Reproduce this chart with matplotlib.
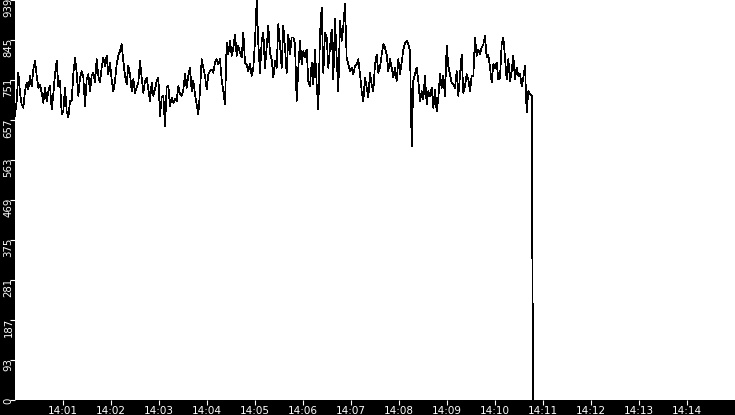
import numpy as np
import matplotlib
matplotlib.use("Agg")
import matplotlib.pyplot as plt
from matplotlib import transforms

# samples, seconds after 14:00
DT = 2.5 / 1.2

seg1_start = 0.0
seg1 = [667, 702, 768, 721, 694, 686, 725, 745, 729, 761,
        737, 776, 796, 761, 733, 741, 721, 698, 733, 702,
        725, 737, 682, 718, 765, 796, 737, 749, 671, 678,
        733, 678, 663, 702, 702, 765, 804, 768, 714, 757,
        772, 757, 690, 753, 765, 725, 761, 768, 745, 800,
        761, 745, 780, 804, 784, 808, 765, 792, 753, 725,
        749, 788, 808, 819, 835, 796, 761, 741, 784, 765,
        725, 753, 721, 733, 745, 796, 757, 721]

seg2_start = 162.5
seg2 = [749, 757, 729, 702, 745, 714, 729, 749, 757, 667,
        710, 714, 643, 733, 737, 690, 710, 698, 706, 702,
        737, 718, 714, 729, 765, 733, 761, 780, 725, 749,
        718, 694, 671, 725, 800, 780, 761, 729, 765, 772,
        776, 768, 792, 800, 788, 800, 753, 725, 694, 839,
        811, 843, 808, 827, 858, 808, 831, 815, 804, 862,
        792, 788, 772, 788, 761, 780, 843, 937, 835, 768,
        843, 862, 780, 827, 878, 815, 800, 757]

seg3_start = 325.0
seg3 = [796, 780, 882, 835, 780, 878, 827, 768, 858, 811,
        851, 851, 835, 702, 780, 843, 788, 819, 804, 823,
        749, 737, 792, 741, 823, 741, 682, 858, 921, 768,
        862, 851, 780, 827, 870, 753, 894, 804, 725, 890,
        843, 878, 929, 804, 788, 772, 780, 765, 784, 788,
        800, 765, 725, 702, 757, 733, 710, 768, 741, 725,
        788, 811, 768, 780, 811, 835, 827, 811, 772, 800,
        780, 757, 780, 749, 800, 765, 792, 823]

seg4_start = 487.5
seg4 = [839, 843, 835, 819, 596, 749, 765, 780, 749, 702,
        725, 706, 761, 694, 725, 714, 733, 686, 729, 678,
        710, 765, 733, 761, 714, 831, 784, 765, 745, 741,
        733, 772, 714, 761, 811, 721, 737, 765, 753, 725,
        761, 761, 851, 808, 823, 811, 827, 835, 855, 804,
        811, 780, 745, 788, 780, 792, 753, 757, 835, 851,
        804, 753, 800, 749, 772, 808, 753, 780, 761, 765,
        737, 757, 784, 675, 725, 718, 714]

drop_times = [646.6, 647.9]
drop_values = [355, 0]

x_ticks = [60, 120, 180, 240, 300, 360, 420, 480, 540, 600, 660, 720, 780, 840]
x_labels = ["14:01", "14:02", "14:03", "14:04", "14:05", "14:06", "14:07",
            "14:08", "14:09", "14:10", "14:11", "14:12", "14:13", "14:14"]
y_ticks = [0, 93.9, 187.8, 281.7, 375.6, 469.5, 563.4, 657.3, 751.2, 845.1, 939]
y_labels = ["0", "93", "187", "281", "375", "469", "563", "657", "751", "845", "939"]

times = []
values = []
for start, seg in [(seg1_start, seg1), (seg2_start, seg2),
                   (seg3_start, seg3), (seg4_start, seg4)]:
    times.extend(start + np.arange(len(seg)) * DT)
    values.extend(seg)
times.extend(drop_times)
values.extend(drop_values)

fig = plt.figure(figsize=(7.35, 4.15), dpi=100, facecolor="black")
ax = fig.add_axes([15 / 735, 15 / 415, 720 / 735, 400 / 415])
ax.set_facecolor("white")
ax.plot(times, values, color="black", linewidth=0.5, antialiased=False)

ax.set_xlim(0, 900)
ax.set_ylim(0, 939)
for s in ax.spines.values():
    s.set_visible(False)

ax.set_xticks(x_ticks, labels=x_labels)
ax.set_yticks(y_ticks, labels=[])
ax.tick_params(axis="both", colors="white", direction="out", length=3.6,
               width=0.8, pad=0.5)
ax.tick_params(axis="x", labelsize=7.5)

# rotated y labels hang just below their tick
trans = transforms.offset_copy(ax.get_yaxis_transform(), fig=fig, x=-6.5, y=2, units="dots")
for v, lab in zip(y_ticks, y_labels):
    ax.text(0, v, lab, transform=trans, rotation=90, ha="center", va="top",
            color="white", fontsize=7.3, clip_on=False)

fig.savefig("out.png", dpi=100, facecolor="black")
